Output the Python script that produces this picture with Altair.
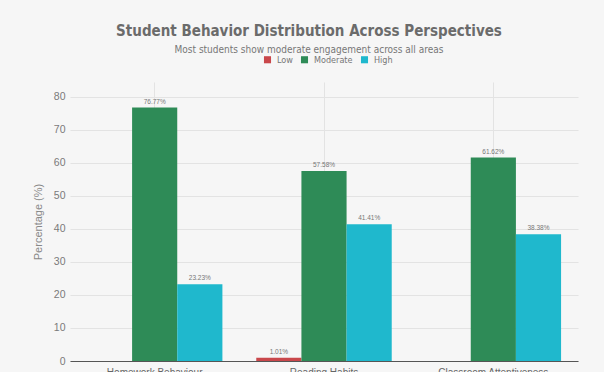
import altair as alt
import pandas as pd

# Share of students at each level, per behaviour perspective
perspectives = ["Homework Behaviour", "Reading Habits", "Classroom Attentiveness"]
levels = ["Low", "Moderate", "High"]
low_pct = [0.0, 1.01, 0.0]
moderate_pct = [76.77, 57.58, 61.62]
high_pct = [23.23, 41.41, 38.38]
level_colors = ["#c9474b", "#2e8b57", "#1fb8cd"]

rows = []
for i, p in enumerate(perspectives):
    for lvl, vals in zip(levels, [low_pct, moderate_pct, high_pct]):
        v = vals[i]
        rows.append({
            "Perspective": p,
            "Level": lvl,
            "Percentage": v,
            "Label": f"{v:.2f}%" if v > 0 else "",
        })
df = pd.DataFrame(rows)

title_font = "DejaVu Sans Condensed"
body_font = "Liberation Sans"

x_enc = alt.X(
    "Perspective:N",
    sort=perspectives,
    scale=alt.Scale(paddingInner=0.2, paddingOuter=0.1),
    axis=alt.Axis(
        title=None, labelAngle=0, grid=True, bandPosition=0.5,
        gridColor="#e3e3e3", ticks=False, domainColor="#555555",
        labelColor="#666666", labelFont=body_font, labelFontSize=10,
        labelPadding=6,
    ),
)
y_enc = alt.Y(
    "Percentage:Q",
    scale=alt.Scale(domain=[0, 84.5], nice=False),
    axis=alt.Axis(
        title="Percentage (%)", values=list(range(0, 90, 10)),
        labelOverlap=False, domain=False, ticks=False, gridColor="#e3e3e3",
        labelColor="#7a7a7a", labelFont=body_font, labelFontSize=10.5,
        labelPadding=5, titleColor="#888888", titleFont=body_font,
        titleFontSize=11, titleFontWeight="normal", titlePadding=10,
    ),
)
off_enc = alt.XOffset("Level:N", sort=levels, scale=alt.Scale(domain=levels))

bars = alt.Chart(df).mark_bar().encode(
    x=x_enc,
    y=y_enc,
    xOffset=off_enc,
    color=alt.Color(
        "Level:N",
        sort=levels,
        scale=alt.Scale(domain=levels, range=level_colors),
        legend=alt.Legend(
            title=None, orient="none", direction="horizontal",
            legendX=193, legendY=-27, symbolType="square", symbolSize=50,
            symbolStrokeWidth=0, labelFont=title_font, labelFontSize=9,
            labelColor="#777777", labelOffset=5, columnPadding=7,
        ),
    ),
)

labels = alt.Chart(df).mark_text(
    baseline="bottom", dy=-3, fontSize=6.5, color="#777777", font=body_font
).encode(
    x=x_enc,
    y=y_enc,
    xOffset=off_enc,
    text="Label:N",
)

chart = (
    alt.layer(bars, labels)
    .properties(
        width=508,
        height=279,
        autosize=alt.AutoSizeParams(type="none"),
        padding={"left": 70, "top": 82, "right": 26, "bottom": 11},
        background="#f6f6f6",
        title=alt.TitleParams(
            text="Student Behavior Distribution Across Perspectives",
            subtitle="Most students show moderate engagement across all areas",
            anchor="middle", dx=-15, offset=0,
            font=title_font, fontSize=15, fontWeight="bold", color="#6b6b6b",
            subtitleFont=title_font, subtitleFontSize=10,
            subtitleColor="#777777", subtitlePadding=6,
        ),
    )
    .configure_view(stroke=None)
)

chart.save("out.html", embed_options={"renderer": "svg", "actions": False})
